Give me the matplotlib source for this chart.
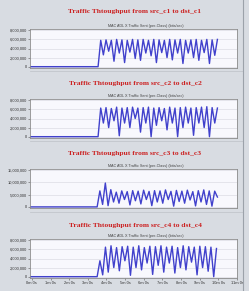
import numpy as np
import matplotlib
matplotlib.use("Agg")
from matplotlib import pyplot as plt
from matplotlib.ticker import FuncFormatter

# data (values in bits/sec, millions)
titles = ["Traffic Thtoughput from src_c1 to dst_c1",
          "Traffic Thtoughput from src_c2 to dst_c2",
          "Traffic Thtoughput from src_c3 to dst_c3",
          "Traffic Thtoughput from src_c4 to dst_c4"]
sub_title = "MAC ADL X Traffic Sent (per-Class) (bits/sec)"

t_start = [3.55, 3.55, 3.5, 3.5]
t_end = [9.95, 9.95, 9.95, 9.9]

vals_c1 = [0, 5.8, 2.6, 5.9, 3.4, 5.8, 1.2, 6.0, 3.0, 5.9, 0.9, 5.8, 3.2, 6.0, 1.8,
           5.9, 1.4, 6.0, 3.0, 5.8, 2.4, 6.0, 0.9, 5.9, 3.1, 5.8, 2.0, 6.0, 1.5, 5.9,
           3.0, 6.0, 0.7, 5.8, 3.0, 5.9, 2.0, 6.0, 1.4, 5.8, 3.1, 6.0, 0.7, 5.9, 2.5, 6.0]
vals_c2 = [0, 6.3, 3.0, 6.4, 2.0, 6.2, 3.5, 6.5, 0.2, 6.3, 3.0, 6.4, 2.0, 6.5, 4.0,
           6.3, 1.0, 6.4, 3.0, 6.5, 0.0, 6.3, 2.5, 6.4, 3.5, 6.2, 1.5, 6.5, 3.0, 6.3,
           0.0, 6.4, 2.0, 6.5, 3.0, 6.3, 0.3, 6.4, 3.0, 6.5, 2.0, 6.6, 0.0, 6.4, 3.0, 6.3]
vals_c3 = [0, 6.5, 1.0, 9.7, 0.5, 7.0, 2.0, 6.0, 1.5, 6.5, 3.0, 6.2, 0.8, 6.6, 2.5,
           6.4, 1.2, 6.8, 3.0, 6.3, 0.5, 6.6, 2.0, 6.5, 1.5, 6.9, 3.0, 6.3, 0.3, 6.7,
           2.2, 6.4, 1.5, 6.8, 2.8, 6.2, 0.4, 6.6, 2.0, 6.9, 1.0, 6.5, 0.3, 6.4, 4.0]
vals_c4 = [0, 3.5, 0.4, 6.5, 1.0, 6.8, 2.0, 6.4, 1.3, 6.6, 3.5, 6.7, 0.3, 6.5, 2.0,
           6.8, 1.5, 6.4, 3.0, 6.7, 0.5, 6.6, 2.5, 6.8, 1.0, 6.5, 3.0, 6.7, 0.8, 6.4,
           2.0, 6.8, 1.5, 6.6, 3.2, 6.5, 0.4, 6.7, 2.0, 6.6, 1.2, 6.5, 0.0, 6.2]
series = [vals_c1, vals_c2, vals_c3, vals_c4]

y_ticks = [[0, 2, 4, 6, 8], [0, 2, 4, 6, 8], [0, 5, 10, 15], [0, 2, 4, 6, 8]]
y_lims = [(-0.29, 8.29), (-0.29, 8.29), (-0.45, 15.4), (-0.29, 8.29)]
x_ticks = list(range(12))
x_labels = ["%dm 0s" % m for m in x_ticks]

# layout (pixels from top-left)
W, H = 249, 291
box_top = [29, 99, 169, 239]
box_h = 39
box_left, box_right = 30, 237
title_y = [12, 84, 154, 226]
sub_y = [26, 96, 166, 236]

bg = "#d8dce2"
fig = plt.figure(figsize=(W / 100, H / 100), dpi=100, facecolor=bg)

def fx(x):
    return x / W

def fy(y):
    return 1 - y / H

# separators between stacked windows
for y in [71, 141, 212]:
    fig.add_artist(plt.Line2D([fx(30), fx(243)], [fy(y), fy(y)], color="#c2c6cc", lw=0.6))
fig.add_artist(plt.Line2D([fx(243), fx(243)], [0, 1], color="#9ca2aa", lw=0.8))

fmt = FuncFormatter(lambda v, p: "{:,}".format(int(round(v * 1e6))))

for i in range(4):
    ax = fig.add_axes([fx(box_left), fy(box_top[i] + box_h), fx(box_right - box_left), box_h / H])
    ax.set_facecolor("#f8f8fd")
    vals = series[i]
    t = np.concatenate([[-0.1], np.linspace(t_start[i], t_end[i], len(vals))])
    y = np.concatenate([[0], vals])
    ax.plot(t, y, color="#4141cc", lw=1.0, solid_joinstyle="round")
    ax.set_xlim(-0.1, 11)
    ax.set_ylim(*y_lims[i])
    ax.set_yticks(y_ticks[i])
    ax.yaxis.set_major_formatter(fmt)
    ax.set_xticks(x_ticks)
    ax.grid(axis="y", color="#dcdce4", lw=0.5)
    ax.tick_params(axis="both", length=1.5, width=0.4, pad=0.8, labelsize=2.9,
                   colors="#555555", labelcolor="#333333")
    if i == 3:
        ax.set_xticklabels(x_labels)
    else:
        ax.tick_params(axis="x", bottom=False, labelbottom=False)
    for s in ax.spines.values():
        s.set_color("#8c8c8c")
        s.set_linewidth(0.6)
    for lab in ax.get_xticklabels() + ax.get_yticklabels():
        lab.set_family("Liberation Sans")

    fig.text(fx(135), fy(title_y[i]), titles[i], color="#cc2222", fontsize=5.4,
             fontweight="bold", family="Liberation Serif", ha="center", va="center")
    fig.text(fx(146), fy(sub_y[i]), sub_title, color="#444444", fontsize=2.7,
             family="Liberation Sans", ha="center", va="center")

fig.savefig("out.png", dpi=100, facecolor=bg)
